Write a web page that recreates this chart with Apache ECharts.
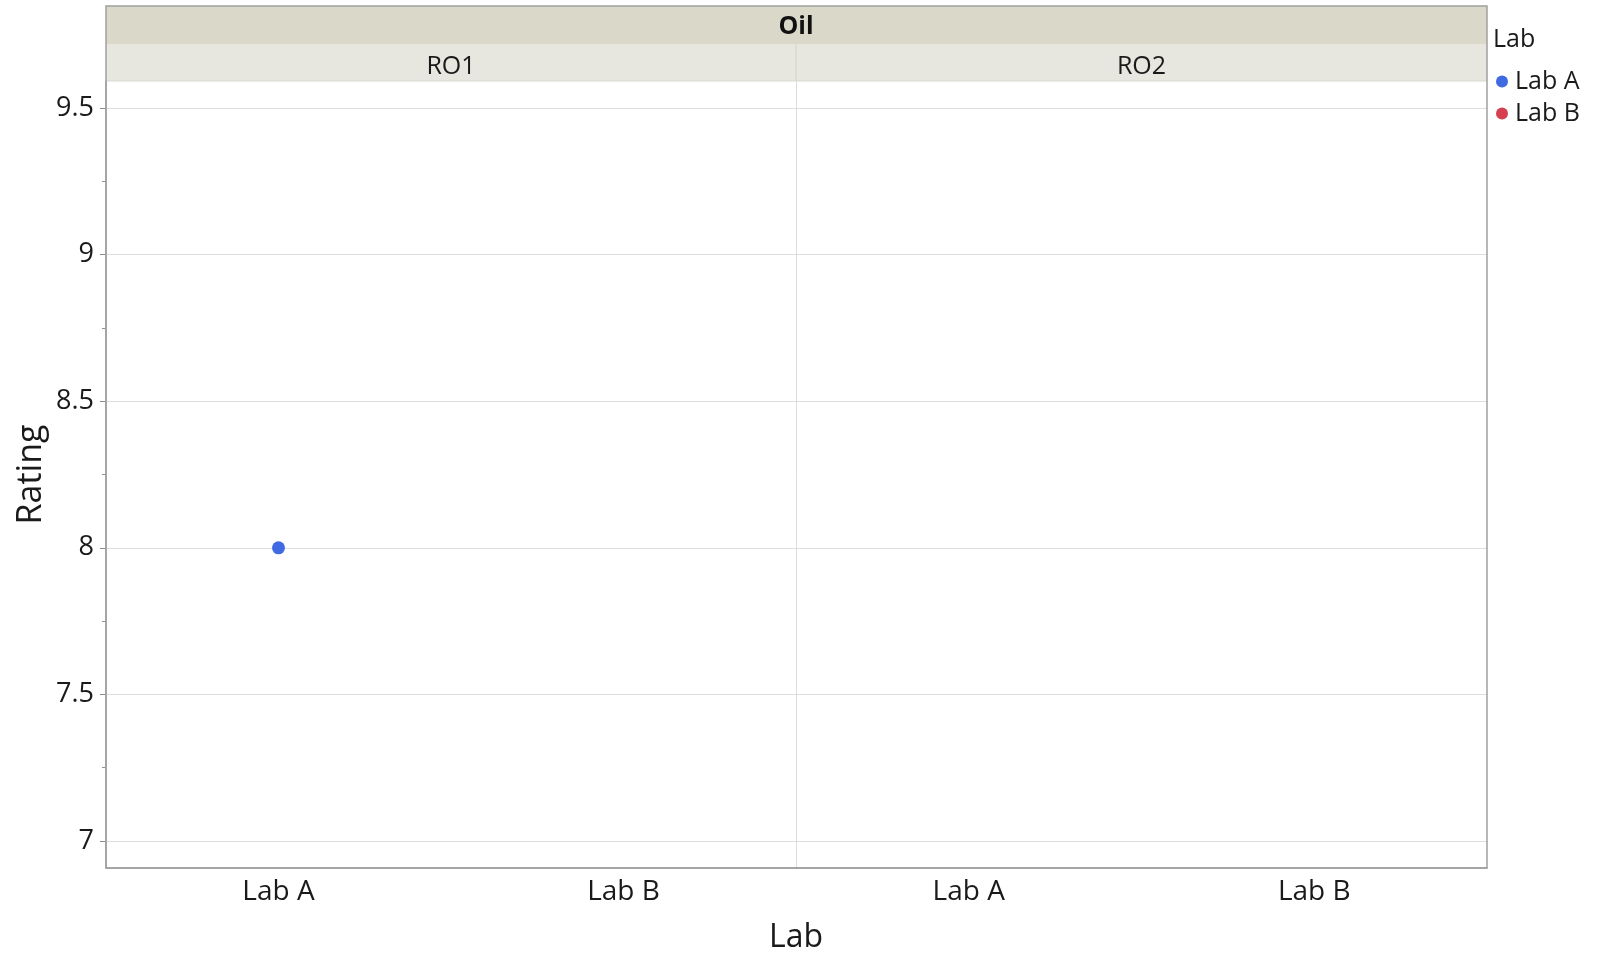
<!DOCTYPE html>
<html>
<head>
<meta charset="utf-8">
<script src="https://cdn.jsdelivr.net/npm/echarts@6/dist/echarts.min.js"></script>
<style>
html,body{margin:0;padding:0;background:#fff;}
#chart{width:1608px;height:953px;}
</style>
</head>
<body>
<div id="chart"></div>
<script>
// ---- data ----
const panelTitle = 'Oil';
const oils = ['RO1', 'RO2'];
const labs = ['Lab A', 'Lab B'];
const labA_RO1 = [8];
const labB_RO1 = [];
const labA_RO2 = [];
const labB_RO2 = [];
const majorTicks = [7, 7.5, 8, 8.5, 9, 9.5];
const minorTicks = [7.25, 7.75, 8.25, 8.75, 9.25];
const yMin = 6.908, yMax = 9.592;
const xTitle = 'Lab';
const yTitle = 'Rating';
const legendTitle = 'Lab';

const colors = { 'Lab A': '#3F6AE2', 'Lab B': '#D63F4F' };
const FONT = 'Open Sans';

const L = 106, R = 1487, MID = 796, TOP = 81, BOT = 868;

const chart = echarts.init(document.getElementById('chart'));

function yAxisBase(gridIndex) {
  return {
    type: 'value', gridIndex, min: yMin, max: yMax, position: 'left',
    axisLine: { show: false }, axisLabel: { show: false },
    axisTick: { show: false }, splitLine: { show: false }
  };
}

const option = {
  animation: false,
  textStyle: { fontFamily: FONT },
  grid: [
    { left: L, top: TOP, width: MID - L, height: BOT - TOP },
    { left: MID, top: TOP, width: R - MID, height: BOT - TOP }
  ],
  xAxis: [0, 1].map(i => ({
    type: 'category', gridIndex: i, data: labs, boundaryGap: true,
    axisLine: { show: true, lineStyle: { color: '#a0a0a0', width: 1.5 } },
    axisTick: { show: false },
    axisLabel: { fontSize: 28, color: '#1a1a1a', margin: 10, fontFamily: FONT },
    splitLine: { show: false }
  })),
  yAxis: [
    Object.assign(yAxisBase(0), {
      axisLine: { show: true, lineStyle: { color: '#a0a0a0', width: 1.5 } },
      axisTick: { show: true, length: 6, customValues: majorTicks, lineStyle: { color: '#909090' } },
      axisLabel: { show: true, customValues: majorTicks, fontSize: 27, color: '#1a1a1a', margin: 12, fontFamily: FONT },
      splitLine: { show: true, lineStyle: { color: '#dedede', width: 1.2 } },
      name: yTitle, nameLocation: 'middle', nameRotate: 90, nameGap: 58,
      nameTextStyle: { fontSize: 34, color: '#1a1a1a', fontFamily: FONT }
    }),
    Object.assign(yAxisBase(0), {
      axisTick: { show: true, length: 4, customValues: minorTicks, lineStyle: { color: '#909090' } }
    }),
    Object.assign(yAxisBase(1), {
      axisLine: { show: true, lineStyle: { color: '#dcdcdc', width: 1 } },
      axisTick: { show: false, customValues: majorTicks },
      splitLine: { show: true, lineStyle: { color: '#dedede', width: 1.2 } }
    })
  ],
  legend: {
    orient: 'vertical', left: 1491, top: 64, itemWidth: 12, itemHeight: 12, itemGap: 7,
    icon: 'circle', data: labs,
    itemStyle: { opacity: 1 },
    textStyle: { fontSize: 25, color: '#1a1a1a', fontFamily: FONT, padding: [0, 0, 0, 2] }
  },
  series: [
    { name: 'Lab A', type: 'scatter', xAxisIndex: 0, yAxisIndex: 0, symbolSize: 13,
      itemStyle: { color: colors['Lab A'], opacity: 1 }, data: labA_RO1.map(v => ['Lab A', v]) },
    { name: 'Lab B', type: 'scatter', xAxisIndex: 0, yAxisIndex: 0, symbolSize: 13,
      itemStyle: { color: colors['Lab B'], opacity: 1 }, data: labB_RO1.map(v => ['Lab B', v]) },
    { name: 'Lab A', type: 'scatter', xAxisIndex: 1, yAxisIndex: 2, symbolSize: 13,
      itemStyle: { color: colors['Lab A'], opacity: 1 }, data: labA_RO2.map(v => ['Lab A', v]) },
    { name: 'Lab B', type: 'scatter', xAxisIndex: 1, yAxisIndex: 2, symbolSize: 13,
      itemStyle: { color: colors['Lab B'], opacity: 1 }, data: labB_RO2.map(v => ['Lab B', v]) }
  ],
  graphic: [
    { type: 'rect', shape: { x: L, y: 6, width: R - L, height: 38 }, style: { fill: '#DAD8C9' }, z: 1 },
    { type: 'rect', shape: { x: L, y: 44, width: R - L, height: 37 }, style: { fill: '#E7E7DF' }, z: 1 },
    { type: 'line', shape: { x1: MID, y1: 44, x2: MID, y2: 81 }, style: { stroke: '#d2d2ca', lineWidth: 1 }, z: 2 },
    { type: 'line', shape: { x1: L, y1: 81, x2: R, y2: 81 }, style: { stroke: '#d8d8d0', lineWidth: 1 }, z: 2 },
    { type: 'rect', shape: { x: L, y: 6, width: R - L, height: BOT - 6 }, style: { fill: 'none', stroke: '#a0a0a0', lineWidth: 1.5 }, z: 3 },
    { type: 'text', x: MID, y: 27, style: { text: panelTitle, fontSize: 25, fontWeight: 'bold', fill: '#111', align: 'center', verticalAlign: 'middle', fontFamily: FONT }, z: 4 },
    { type: 'text', x: (L + MID) / 2, y: 67, style: { text: oils[0], fontSize: 25, fill: '#1a1a1a', align: 'center', verticalAlign: 'middle', fontFamily: FONT }, z: 4 },
    { type: 'text', x: (MID + R) / 2, y: 67, style: { text: oils[1], fontSize: 25, fill: '#1a1a1a', align: 'center', verticalAlign: 'middle', fontFamily: FONT }, z: 4 },
    { type: 'text', x: MID, y: 938, style: { text: xTitle, fontSize: 32, fill: '#1a1a1a', align: 'center', verticalAlign: 'middle', fontFamily: FONT }, z: 4 },
    { type: 'text', x: 1493, y: 40, style: { text: legendTitle, fontSize: 25, fill: '#1a1a1a', align: 'left', verticalAlign: 'middle', fontFamily: FONT }, z: 4 }
  ]
};
chart.setOption(option);
</script>
</body>
</html>
